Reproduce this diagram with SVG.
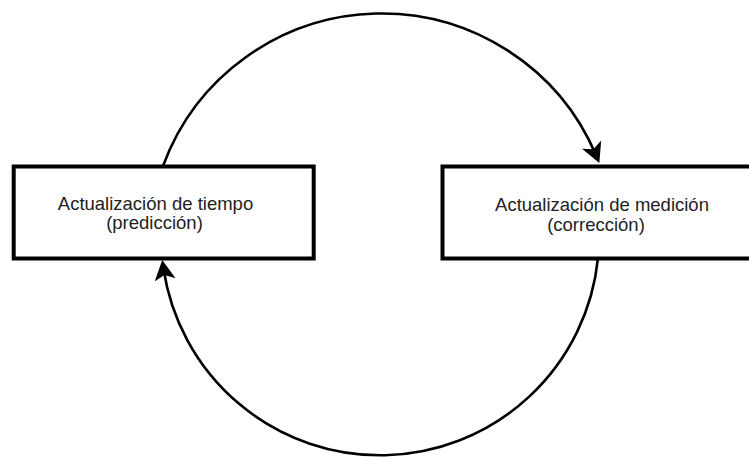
<svg xmlns="http://www.w3.org/2000/svg" width="749" height="457" viewBox="0 0 749 457">
  <style>
    .box { fill: #ffffff; stroke: #000000; stroke-width: 4; }
    .label { font-family: "Liberation Sans", Arial, sans-serif; font-size: 18.5px; fill: #222222; text-anchor: middle; }
    .edge { fill: none; stroke: #000000; stroke-width: 2.6; }
  </style>
  <defs>
    <marker id="arrow" markerUnits="userSpaceOnUse" viewBox="0 -11 22 22" markerWidth="22" markerHeight="22" refX="12" refY="0" orient="auto">
      <path d="M20,0 L0,-10.5 L5,0 L0,10.5 Z" fill="#000000"/>
    </marker>
  </defs>
  <rect width="749" height="457" fill="#ffffff"/>

  <!-- curved connectors between the two update steps -->
  <g id="connectors">
    <path class="edge" d="M163,166 A233,233 0 0 1 596.2,155.6" marker-end="url(#arrow)"/>
    <path class="edge" d="M598,258 A219,219 0 0 1 163.4,268" marker-end="url(#arrow)"/>
  </g>

  <g id="time-update">
    <rect class="box" x="13.7" y="166.5" width="300" height="92"/>
    <text class="label" x="155.5" y="209.5">Actualización de tiempo</text>
    <text class="label" x="154.5" y="229">(predicción)</text>
  </g>

  <g id="measurement-update">
    <rect class="box" x="442.5" y="166.5" width="316" height="92"/>
    <text class="label" x="602" y="211">Actualización de medición</text>
    <text class="label" x="596" y="230.5">(corrección)</text>
  </g>
</svg>
